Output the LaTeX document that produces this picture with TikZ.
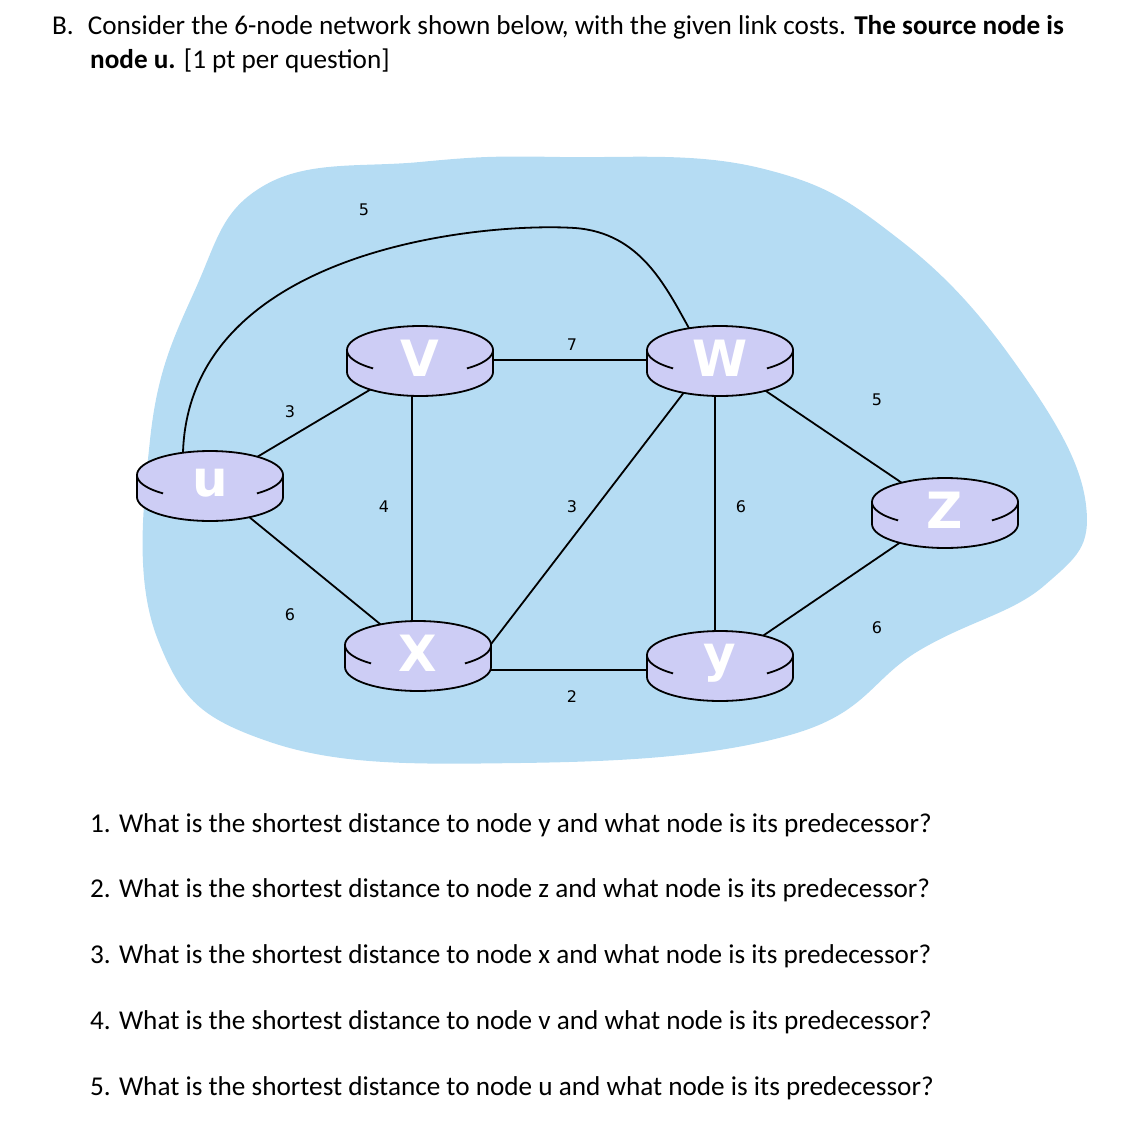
\documentclass[tikz,border=0pt]{standalone}
\usepackage{fontspec}
\setmainfont{Carlito}
\newfontfamily\rfont{DejaVu Sans}
\begin{document}
\begin{tikzpicture}[x=1pt,y=-1pt,
  lbl/.style={font=\fontsize{16}{16}\selectfont\rfont},
  link/.style={line width=1.8pt},
  txt/.style={anchor=base west,font=\fontsize{27.2}{30}\selectfont,inner sep=0},
  rtr/.pic={
    \fill[rfill] plot[domain=180:360,samples=40] ({73*cos(\x)},{12-24*sin(\x)}) -- plot[domain=0:180,samples=40] ({73*cos(\x)},{-10-24*sin(\x)}) -- cycle;
    \draw[line width=1.8pt] plot[domain=180:360,samples=40] ({73*cos(\x)},{12-24*sin(\x)}) -- plot[domain=0:180,samples=40] ({73*cos(\x)},{-10-24*sin(\x)}) -- cycle;
    \draw[line width=1.8pt] plot[domain=180:230,samples=15] ({73*cos(\x)},{-10-24*sin(\x)});
    \draw[line width=1.8pt] plot[domain=310:360,samples=15] ({73*cos(\x)},{-10-24*sin(\x)});
  }]
\definecolor{rfill}{HTML}{CDCDF5}
\definecolor{blob}{HTML}{B5DCF3}
\useasboundingbox (0,0) rectangle (1126,1148);
\fill[blob] plot[smooth cycle,tension=0.7] coordinates{(150,440) (195,290) (265,185) (420,162) (560,157) (760,168) (900,240) (1020,370) (1086,505) (1045,585) (920,650) (790,735) (520,763) (270,742) (158,640)};
\coordinate (u) at (210,485);
\coordinate (v) at (420,360);
\coordinate (w) at (720,360);
\coordinate (z) at (945,512);
\coordinate (x) at (418,655);
\coordinate (y) at (720,665);
\coordinate (xr) at (480,670);
\coordinate (yl) at (660,670);
\coordinate (wb) at (695,378);
\coordinate (xt) at (488,648);
\draw[link] (u) -- (v);
\draw[link] (u) -- (x);
\draw[link] (412,370) -- (412,650);
\draw[link] (v) -- (w);
\draw[link] (wb) -- (xt);
\draw[link] (715,370) -- (715,660);
\draw[link] (w) -- (z);
\draw[link] (xr) -- (yl);
\draw[link] (y) -- (z);
\draw[link] (183,452) .. controls (190,250) and (480,222) .. (575,228) .. controls (640,233) and (665,285) .. (690,330);
\foreach \n/\t in {u/u,v/V,w/W,z/Z,x/X,y/y}{
  \pic at (\n) {rtr};
  \node[text=white,font=\rfont\bfseries\fontsize{50}{50}\selectfont] at ([yshift=2]\n) {\t};
}
\node[lbl] (c1) at (364,210) {5};
\node[lbl] (c2) at (572,345) {7};
\node[lbl] (c3) at (290,412) {3};
\node[lbl] (c4) at (384,507) {4};
\node[lbl] (c5) at (572,507) {3};
\node[lbl] (c6) at (741,507) {6};
\node[lbl] (c7) at (877,400) {5};
\node[lbl] (c8) at (290,615) {6};
\node[lbl] (c9) at (877,628) {6};
\node[lbl] (c10) at (572,697) {2};
\node[txt] (h1) at (52,35) {B.\hspace{14pt}Consider the 6-node network shown below, with the given link costs. \textbf{The source node is}};
\node[txt] (h2) at (90,68) {\textbf{node u.} [1 pt per question]};
\node[txt] (q1) at (90,832) {1. What is the shortest distance to node y and what node is its predecessor?};
\node[txt] (q2) at (90,897) {2. What is the shortest distance to node z and what node is its predecessor?};
\node[txt] (q3) at (90,963) {3. What is the shortest distance to node x and what node is its predecessor?};
\node[txt] (q4) at (90,1029) {4. What is the shortest distance to node v and what node is its predecessor?};
\node[txt] (q5) at (90,1095) {5. What is the shortest distance to node u and what node is its predecessor?};
\end{tikzpicture}
\end{document}
